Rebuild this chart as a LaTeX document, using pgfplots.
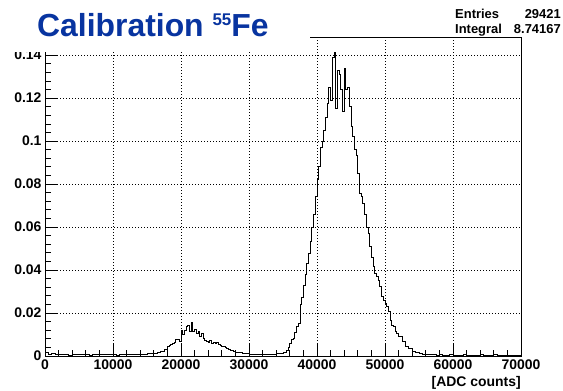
\documentclass[border=0pt]{standalone}
\usepackage{fontspec}
\setmainfont{Liberation Sans}
\usepackage{pgfplots}
\pgfplotsset{compat=1.18}
\definecolor{titleblue}{RGB}{8,52,160}

\begin{document}
\begin{tikzpicture}
\path (0,0) rectangle (563bp,391bp);
\begin{axis}[
  at={(45bp,35bp)}, anchor=south west,
  scale only axis, width=476bp, height=318.7bp,
  xmin=0, xmax=70000, ymin=0, ymax=0.1483,
  xtick={0,10000,20000,30000,40000,50000,60000,70000},
  xticklabels={\textbf{0},\textbf{10000},\textbf{20000},\textbf{30000},\textbf{40000},\textbf{50000},\textbf{60000},\textbf{70000}},
  ytick={0,0.02,0.04,0.06,0.08,0.1,0.12,0.14},
  yticklabels={\textbf{0},\textbf{0.02},\textbf{0.04},\textbf{0.06},\textbf{0.08},\textbf{0.1},\textbf{0.12},\textbf{0.14}},
  minor x tick num=4, minor y tick num=4,
  tick align=inside, xtick pos=bottom, ytick pos=left,
  major tick length=12bp, minor tick length=6bp,
  tick style={black, line width=0.8bp},
  axis line style={black, line width=0.8bp},
  grid=major,
  grid style={black, line width=0.6bp, dash pattern=on 1bp off 2bp},
  ticklabel style={font=\fontsize{14}{14}\selectfont\bfseries},
  scaled ticks=false,
]
\addplot[const plot mark left, black, line width=1bp] coordinates {
(0,0.0018)(500,0.0008)(1000,0.0010)(1500,0.0006)(2000,0.0009)(2500,0.0005)
(3000,0.0008)(3500,0.0004)(4000,0.0007)(4500,0.0009)(5000,0.0005)(5500,0.0006)
(6000,0.0008)(6500,0.0004)(7000,0.0007)(7500,0.0005)(8000,0.0009)(8500,0.0006)
(9000,0.0005)(9500,0.0008)(10000,0.0006)(10500,0.0004)(11000,0.0007)(11500,0.0006)
(12000,0.0005)(12500,0.0008)(13000,0.0006)(13500,0.0007)(14000,0.0009)(14500,0.0008)
(15000,0.0010)(15500,0.0011)(16000,0.0013)(16500,0.0017)(17000,0.0022)(17500,0.0030)
(18000,0.0042)(18250,0.0048)(18500,0.0052)(18750,0.0058)(19000,0.0062)(19250,0.0075)
(19500,0.0079)(19750,0.0066)(20000,0.0120)(20250,0.0098)(20500,0.0118)(20750,0.0136)
(21000,0.0144)(21250,0.0113)(21500,0.0158)(21750,0.0112)(22000,0.0122)(22250,0.0104)
(22500,0.0114)(22750,0.0090)(23000,0.0106)(23250,0.0082)(23500,0.0074)(23750,0.0068)
(24000,0.0064)(24250,0.0070)(24500,0.0060)(24750,0.0062)(25000,0.0057)(25250,0.0063)
(25500,0.0052)(25750,0.0050)(26000,0.0045)(26250,0.0042)(26500,0.0038)(26750,0.0035)
(27000,0.0030)(27250,0.0027)(27500,0.0025)(27750,0.0022)(28000,0.0017)(28500,0.0014)
(29000,0.0012)(29500,0.0010)(30000,0.0009)(30500,0.0007)(31000,0.0008)(31500,0.0006)
(32000,0.0008)(32500,0.0007)(33000,0.0009)(33500,0.0008)(34000,0.0011)(34500,0.0013)
(35000,0.0017)(35500,0.0025)(35750,0.0040)(36000,0.0058)(36250,0.0076)(36500,0.0082)
(36750,0.0110)(37000,0.0135)(37250,0.0150)(37500,0.0240)(37750,0.0270)(38000,0.0330)
(38250,0.0380)(38500,0.0430)(38750,0.0475)(39000,0.0535)(39250,0.0600)(39500,0.0660)
(39750,0.0740)(40000,0.0820)(40250,0.0880)(40500,0.0970)(40750,0.1000)(41000,0.1050)
(41250,0.1110)(41500,0.1175)(41750,0.1250)(42000,0.1190)(42250,0.1390)(42500,0.1410)
(42750,0.1150)(43000,0.1330)(43250,0.1310)(43500,0.1240)(43750,0.1140)(44000,0.1340)
(44250,0.1240)(44500,0.1250)(44750,0.1160)(45000,0.1070)(45250,0.1020)(45500,0.0960)
(45750,0.0935)(46000,0.0850)(46250,0.0757)(46500,0.0740)(46750,0.0710)(47000,0.0660)
(47250,0.0600)(47500,0.0570)(47750,0.0510)(48000,0.0460)(48250,0.0416)(48500,0.0384)
(48750,0.0370)(49000,0.0353)(49250,0.0322)(49500,0.0276)(49750,0.0260)(50000,0.0245)
(50250,0.0230)(50500,0.0206)(50750,0.0167)(51000,0.0144)(51250,0.0136)(51500,0.0113)
(51750,0.0105)(52000,0.0090)(52500,0.0067)(53000,0.0043)(53500,0.0036)(54000,0.0020)
(54500,0.0014)(55000,0.0010)(55500,0.0008)(56000,0.0007)(56500,0.0005)(57000,0.0006)
(57500,0.0004)(58000,0.0005)(58500,0.0003)(59000,0.0004)(59500,0.0005)(60000,0.0003)
(60500,0.0004)(61000,0.0003)(61500,0.0005)(62000,0.0003)(62500,0.0004)(63000,0.0003)
(63500,0.0004)(64000,0.0005)(64500,0.0003)(65000,0.0004)(65500,0.0003)(66000,0.0005)
(66500,0.0003)(67000,0.0004)(67500,0.0003)(68000,0.0004)(68500,0.0003)(69000,0.0004)
(69500,0.0003)(70000,0.0003)
};
\end{axis}
% title pad and stats pad (white, no border) cover the top of the frame
\fill[white] (0bp,339bp) rectangle (310bp,391bp);
\fill[white] (450bp,353.5bp) rectangle (563bp,391bp);
\node[anchor=base west, inner sep=0pt, text=titleblue, font=\fontsize{32}{32}\selectfont\bfseries]
  at (37bp,354bp) {Calibration \raisebox{11.5bp}{\fontsize{17}{17}\selectfont 55}Fe};
\begin{scope}[font=\fontsize{13}{13}\selectfont\bfseries]
\node[anchor=base west, inner sep=0pt] at (455bp,372.5bp) {Entries};
\node[anchor=base east, inner sep=0pt] at (561bp,372.5bp) {29421};
\node[anchor=base west, inner sep=0pt] at (455bp,357.7bp) {Integral};
\node[anchor=base east, inner sep=0pt] at (561bp,357.7bp) {8.74167};
\end{scope}
\node[anchor=base east, inner sep=0pt, font=\fontsize{14}{14}\selectfont\bfseries]
  at (521bp,5bp) {[ADC counts]};
\end{tikzpicture}
\end{document}
